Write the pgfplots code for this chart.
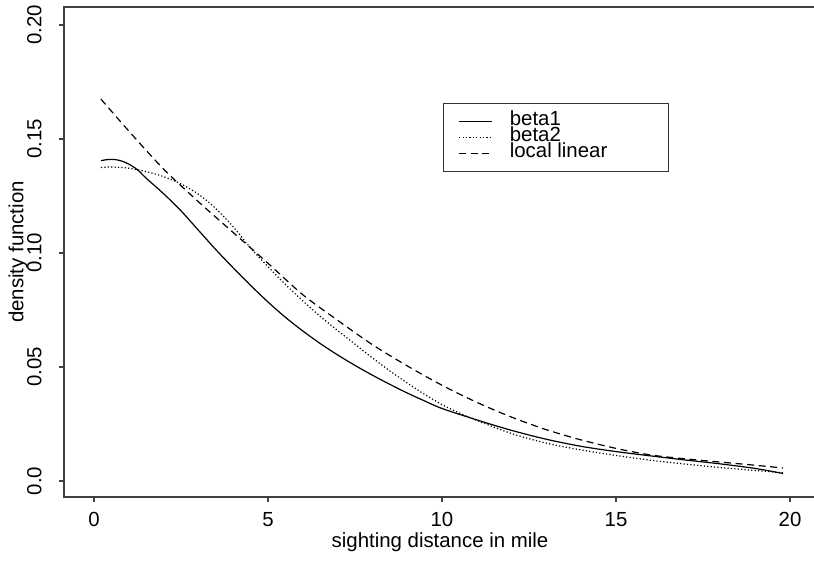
\documentclass[border=0pt]{standalone}
\usepackage{fontspec}
\setmainfont{Liberation Sans}
\usepackage{pgfplots}
\pgfplotsset{compat=1.18}
\newcommand{\lent}[1]{\hspace*{8.5pt}\makebox[72pt][l]{#1}}
\begin{document}
\begin{tikzpicture}
\begin{axis}[
  scale only axis, width=376pt, height=245pt,
  xmin=-0.862, xmax=20.747, ymin=-0.00702, ymax=0.2079,
  axis line style={draw=black!75, line width=1pt},
  tick align=outside, tick pos=left, major tick length=2.5pt,
  tick style={draw=black!75, line width=0.6pt},
  xtick={0,5,10,15,20}, ytick={0,0.05,0.1,0.15,0.2},
  yticklabels={0.0,0.05,0.10,0.15,0.20},
  /pgf/number format/assume math mode=true,
  font=\fontsize{10.2}{12}\selectfont,
  ticklabel style={font=\fontsize{10.2}{12}\selectfont},
  xticklabel style={anchor=north, inner sep=0pt},
  yticklabel style={rotate=90, anchor=south, inner sep=0pt},
  xticklabel shift=5pt, yticklabel shift=8.5pt,
  every axis x label/.style={at={([yshift=-22.5pt]axis description cs:0.5,0)}, anchor=center},
  every axis y label/.style={at={([xshift=-23pt]axis description cs:0,0.5)}, rotate=90, anchor=center},
  xlabel={sighting distance in mile},
  ylabel={density function},
  legend style={at={(axis cs:10.03,0.1658)}, anchor=north west, draw=black!80, line width=0.6pt,
    inner xsep=7.5pt, inner ysep=5pt, row sep=0pt, font=\fontsize{10.2}{12}\selectfont,
    nodes={inner sep=0pt, text height=6pt, text depth=2pt}, cells={anchor=west}},
  legend image code/.code={\draw[#1] (0pt,0pt) -- (16.5pt,0pt);},
]
\coordinate (sw) at (rel axis cs:0,0);
\coordinate (ne) at (rel axis cs:1,1);
\addplot[black, line width=0.6pt, smooth] coordinates {
(0.2,0.1405) (0.4,0.1410) (0.6,0.1410) (0.8,0.1403) (1.0,0.1390) (1.25,0.1365) (1.5,0.1328)
(2.0,0.1260) (2.5,0.1185) (3.0,0.1100) (3.5,0.1015) (4.0,0.0935) (4.5,0.0858) (5.0,0.0785)
(5.5,0.0718) (6.0,0.0658) (6.5,0.0603) (7.0,0.0553) (7.5,0.0507) (8.0,0.0464) (8.5,0.0424)
(9.0,0.0386) (9.5,0.0351) (10.0,0.0318) (11.0,0.0268) (12.0,0.0222) (13.0,0.0183) (14.0,0.0152)
(15.0,0.0129) (16.0,0.0110) (17.0,0.0092) (18.0,0.0075) (19.0,0.0055) (19.8,0.0033)};
\addlegendentry{\lent{beta1}}
\addplot[black, line width=0.6pt, dash pattern=on 0.6pt off 1.1pt, smooth] coordinates {
(0.2,0.1375) (0.5,0.1377) (1.0,0.1372) (1.5,0.1357) (2.0,0.1335) (2.5,0.1303) (3.0,0.1258)
(3.5,0.1195) (4.0,0.1115) (4.5,0.1022) (5.0,0.0940) (5.5,0.0862) (6.0,0.0790) (6.5,0.0722)
(7.0,0.0660) (7.5,0.0600) (8.0,0.0540) (8.5,0.0483) (9.0,0.0430) (9.5,0.0380) (10.0,0.0335)
(10.5,0.0298) (11.0,0.0266) (12.0,0.0208) (13.0,0.0166) (14.0,0.0136) (15.0,0.0112) (16.0,0.0091)
(17.0,0.0074) (18.0,0.0059) (19.0,0.0046) (19.8,0.0036)};
\addlegendentry{\lent{beta2}}
\addplot[black, line width=0.6pt, dash pattern=on 3.5pt off 2.3pt, smooth] coordinates {
(0.2,0.1675) (1.0,0.1535) (2.0,0.1368) (3.0,0.1225) (4.0,0.1090) (5.0,0.0955) (6.0,0.0817)
(7.0,0.0705) (8.0,0.0598) (9.0,0.0505) (10.0,0.0420) (11.0,0.0345) (12.0,0.0280) (13.0,0.0225)
(14.0,0.0180) (15.0,0.0143) (16.0,0.0114) (17.0,0.0097) (18.0,0.0083) (19.0,0.0069) (19.8,0.0057)};
\addlegendentry{\lent{local linear}}
\end{axis}
\pgfresetboundingbox
\path[use as bounding box] ([shift={(-32pt,-32.5pt)}]sw) rectangle ([shift={(-1pt,3.5pt)}]ne);
\end{tikzpicture}
\end{document}
